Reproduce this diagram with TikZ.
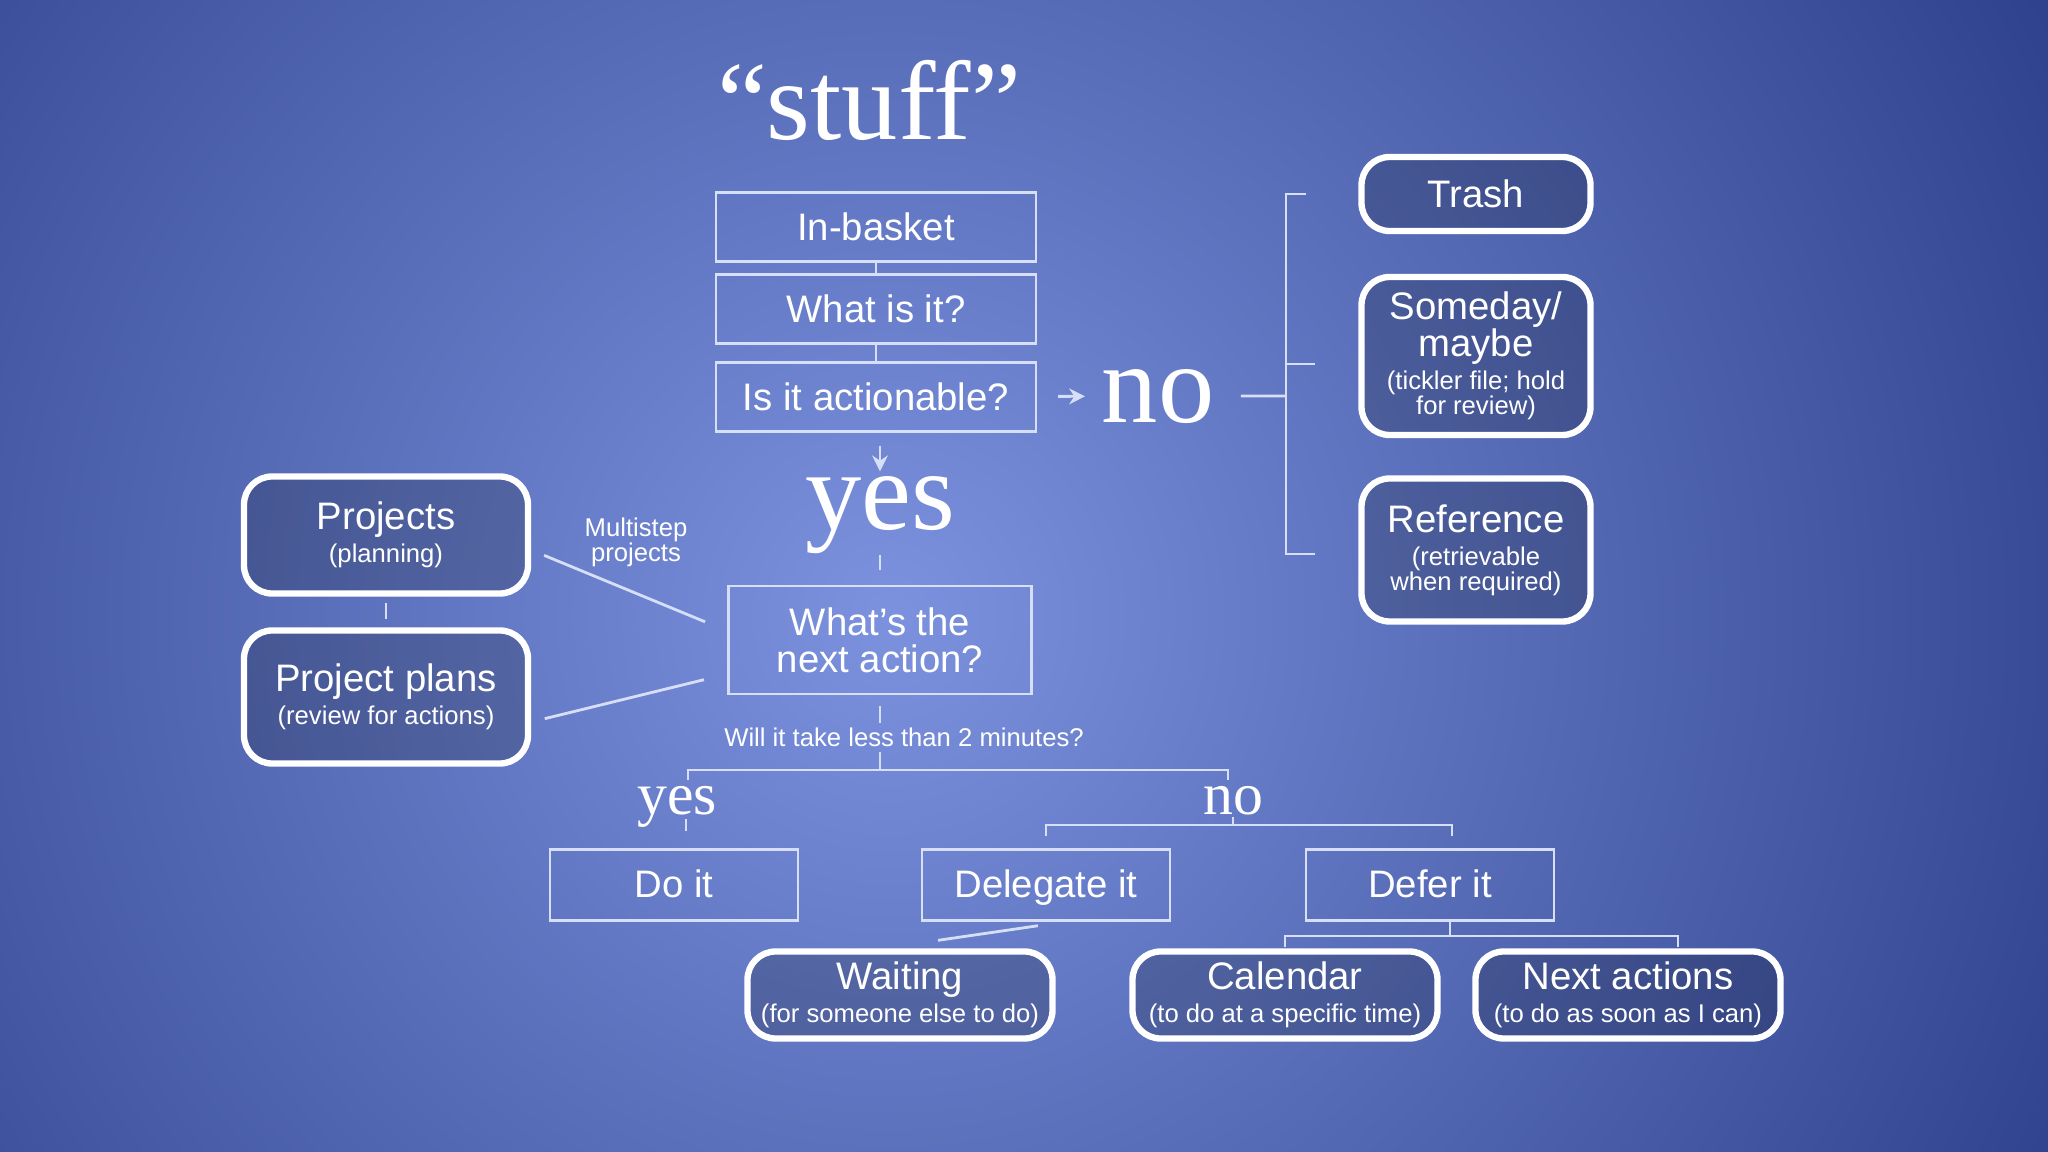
\documentclass[tikz,border=0pt]{standalone}
\usepackage{fontspec}
\setmainfont{Liberation Sans}
\newfontfamily\timesfont{Liberation Serif}
\usetikzlibrary{arrows.meta,positioning,calc}

\definecolor{bginner}{HTML}{7C92DE}
\definecolor{bgouter}{HTML}{2C3F8A}
\definecolor{linecol}{HTML}{D6DEF8}

\newcommand{\boxfont}{\fontsize{10.9}{10.6}\selectfont}
\newcommand{\notefont}{\fontsize{7.3}{7.1}\selectfont}
\newcommand{\wordfont}{\timesfont\fontsize{32}{32}\selectfont}
\newcommand{\midwordfont}{\timesfont\fontsize{17}{17}\selectfont}

\begin{document}
\begin{tikzpicture}[
    stepbox/.style={draw=linecol, line width=0.7pt, minimum width=3.2cm, minimum height=0.69cm, align=center, font=\boxfont, text=white},
    flat/.style={text height=0.74em, text depth=0.02em},
    bin/.style={draw=white, line width=1.8pt, rounded corners=8pt, fill=black, fill opacity=0.18, text opacity=1, align=center, font=\boxfont, text=white, inner sep=2pt},
    word/.style={font=\wordfont, text=white, inner sep=0pt, anchor=base},
    midword/.style={font=\midwordfont, text=white, inner sep=0pt, anchor=base},
    note/.style={font=\notefont, text=white, align=center},
    line/.style={draw=linecol, line width=0.8pt},
    arr/.style={line, -{Stealth[length=4.5pt,width=4.5pt]}}
]
\useasboundingbox (0,0) rectangle (20.48,-11.52);
\begin{scope}
  \clip (0,0) rectangle (20.48,-11.52);
  \shade[inner color=bginner, outer color=bgouter] (8.9,-6.15) circle (13.5);
\end{scope}

% main column
\node[word] (stuff) at (8.69,-1.40) {“stuff”};
\node[stepbox] (inbasket) at (8.76,-2.27) {In-basket};
\node[stepbox] (whatis) at (8.76,-3.09) {What is it?};
\node[stepbox] (action) at (8.76,-3.97) {Is it actionable?};
\node[word] (no1) at (11.58,-4.22) {no};
\node[word] (yes1) at (8.80,-5.30) {yes};
\node[stepbox, minimum width=3.03cm, minimum height=1.08cm] (next) at (8.80,-6.40) {What’s the\\next action?};
\node[note, inner sep=1pt] (question) at (9.04,-7.37) {Will it take less than 2 minutes?};
\node[midword] (yes2) at (6.77,-8.15) {yes};
\node[midword] (no2) at (12.33,-8.15) {no};
\node[stepbox, flat, minimum width=2.48cm, minimum height=0.71cm] (doit) at (6.74,-8.85) {Do it};
\node[stepbox, flat, minimum width=2.48cm, minimum height=0.71cm] (delegate) at (10.46,-8.85) {Delegate it};
\node[stepbox, flat, minimum width=2.48cm, minimum height=0.71cm] (defer) at (14.30,-8.85) {Defer it};

% not actionable
\node[bin, minimum width=2.29cm, minimum height=0.74cm] (trash) at (14.76,-1.94) {Trash};
\node[bin, minimum width=2.29cm, minimum height=1.58cm] (someday) at (14.76,-3.56)
  {Someday/\\maybe\\[-1.2pt]{\notefont (tickler file; hold}\\[-3.5pt]{\notefont for review)}};
\node[bin, minimum width=2.29cm, minimum height=1.43cm] (reference) at (14.76,-5.50)
  {Reference\\[-1.2pt]{\notefont (retrievable}\\[-3.5pt]{\notefont when required)}};

% projects
\node[bin, minimum width=2.84cm, minimum height=1.17cm] (projects) at (3.86,-5.35)
  {Projects\\[-1.2pt]{\notefont (planning)}};
\node[bin, minimum width=2.84cm, minimum height=1.33cm] (plans) at (3.86,-6.97)
  {Project plans\\[-1.2pt]{\notefont (review for actions)}};
\node[note] (multi) at (6.36,-5.42) {Multistep\\projects};

% end lists
\node[bin, minimum width=3.05cm, minimum height=0.87cm] (waiting) at (9.00,-9.95)
  {Waiting\\[-1.2pt]{\notefont (for someone else to do)}};
\node[bin, minimum width=3.05cm, minimum height=0.87cm] (calendar) at (12.85,-9.95)
  {Calendar\\[-1.2pt]{\notefont (to do at a specific time)}};
\node[bin, minimum width=3.05cm, minimum height=0.87cm] (nextact) at (16.28,-9.95)
  {Next actions\\[-1.2pt]{\notefont (to do as soon as I can)}};

\coordinate (brk) at (12.86,-3.96);
\coordinate (split1) at (8.80,-7.70);
\coordinate (yesend) at (6.88,-7.80);
\coordinate (noend) at (12.28,-7.80);
\coordinate (split2) at (12.33,-8.25);
\coordinate (split3) at (14.50,-9.36);

\draw[line] (inbasket) -- (whatis);
\draw[line] (whatis) -- (action);
\draw[arr, shorten <=0.21cm, shorten >=0.16cm] (action) -- (no1);
\draw[arr, shorten <=0.13cm, shorten >=0.05cm] (action.south -| yes1) -- (yes1);
\draw[line, shorten <=0.26cm] (no1) -- (brk);
\draw[line] ($(trash.west)+(-0.52,0)$) -| (brk) |- ($(reference.west)+(-0.43,-0.04)$);
\draw[line] ($(brk |- someday.west)+(0,-0.08)$) -- ($(someday.west)+(-0.43,-0.08)$);

\draw[line, shorten >=0.15cm] (yes1) -- (yes1 |- next.north);
\draw[line, shorten <=0.11cm] (next.south) -- (next.south |- question.north);
\draw[line, shorten <=0.01cm] (question.south -| split1) -- (split1);
\draw[line] (yesend) |- (split1) -| (noend);

\draw[line] ($(yes2.base)+(0.09,-0.04)$) -- ($(yes2.base |- doit.north)+(0.09,0.17)$);
\draw[line, shorten <=0.02cm] (no2.base) -- (split2);
\draw[line] ($(delegate.north)+(0,0.12)$) |- (split2) -| ($(defer.north)+(0.22,0.12)$);

\draw[line] ($(delegate.south)+(-0.08,-0.04)$) -- ($(waiting.north)+(0.38,0.08)$);
\draw[line] (defer.south -| split3) -- (split3);
\draw[line] ($(calendar.north)+(0,0.01)$) |- (split3) -| ($(nextact.north)+(0.50,0.01)$);

\draw[line, shorten <=0.06cm, shorten >=0.08cm] (projects.south) -- (plans.north);
\draw[line, shorten <=0.14cm, shorten >=0.24cm] ($(projects.east)+(0,-0.15)$) -- ($(next.west)+(0,0.09)$);
\draw[line, shorten <=0.14cm, shorten >=0.24cm] ($(plans.east)+(0,-0.25)$) -- ($(next.west)+(0,-0.34)$);
\end{tikzpicture}
\end{document}
